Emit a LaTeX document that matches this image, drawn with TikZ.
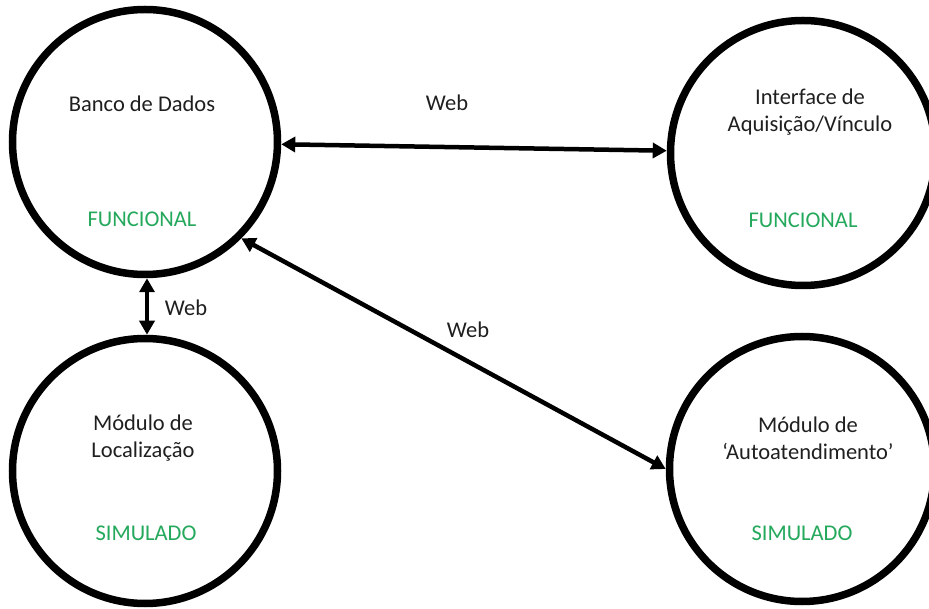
\documentclass[tikz,border=0pt]{standalone}
\usepackage{fontspec}
\setmainfont{Carlito}
\usetikzlibrary{arrows.meta}
\definecolor{okgreen}{RGB}{36,168,92}
\tikzset{
  state/.style={circle, draw=black, line width=7.5pt, minimum size=265pt, inner sep=0pt},
  lbl/.style={align=center, font=\fontsize{22.5}{27}\selectfont, text=black!88, inner sep=0pt},
  status/.style={font=\fontsize{22.5}{27}\selectfont, text=okgreen, inner sep=0pt},
  link/.style={line width=4.5pt, {Triangle[length=14pt,width=15pt]}-{Triangle[length=14pt,width=15pt]}},
}
\begin{document}
\begin{tikzpicture}[x=1pt,y=-1pt]
\useasboundingbox (0,0) rectangle (929,609);
\node[state] (tl) at (145,142) {};
\node[state] (tr) at (803,153) {};
\node[state] (bl) at (145,471) {};
\node[state] (br) at (802,469) {};

\node[lbl] (tlt) at (142,104) {Banco de Dados};
\node[status] (tls) at (142,219) {FUNCIONAL};
\node[lbl] (trt) at (810,112) {Interface de\\Aquisição/Vínculo};
\node[status] (trs) at (803,220) {FUNCIONAL};
\node[lbl] (blt) at (143,438) {Módulo de\\Localização};
\node[status] (bls) at (146,533) {SIMULADO};
\node[lbl] (brt) at (808,438) {Módulo de\\‘Autoatendimento’};
\node[status] (brs) at (802,533) {SIMULADO};

\draw[link] (tl) -- (tr);
\draw[link] ([xshift=2pt]tl.south) -- ([xshift=2pt]bl.north);
\draw[link] (tl.-45) -- (br.180);

\node[lbl] (w1) at (447,103) {Web};
\node[lbl] (w2) at (186,308) {Web};
\node[lbl] (w3) at (468,330) {Web};
\end{tikzpicture}
\end{document}
